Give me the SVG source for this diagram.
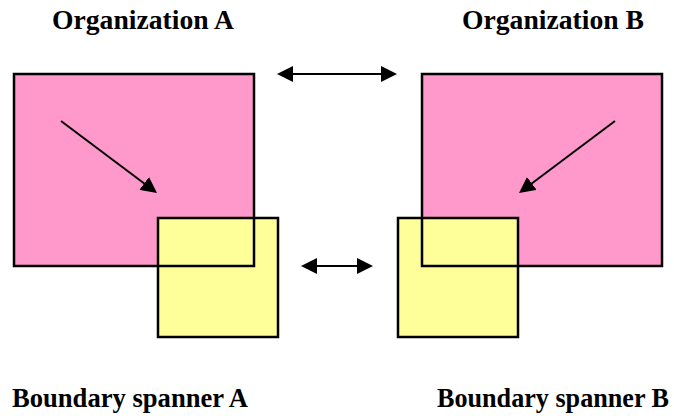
<svg xmlns="http://www.w3.org/2000/svg" width="674" height="416" viewBox="0 0 674 416">
<style>
.org{fill:#FF99CC;stroke:none}
.span{fill:#FFFF99;stroke:#000;stroke-width:2.5}
.outline{fill:none;stroke:#000;stroke-width:2.5}
.lbl{font-family:"Liberation Serif","Times New Roman",serif;font-weight:bold;font-size:27px;fill:#000}
.conn{stroke:#000;stroke-width:2;fill:none}
</style>
<defs>
<marker id="ah" viewBox="0 0 16 16" markerWidth="16" markerHeight="16" markerUnits="userSpaceOnUse" refX="13" refY="8" orient="auto-start-reverse">
<path d="M0,0 L16,8 L0,16 z" fill="#000"/>
</marker>
</defs>
<rect width="674" height="416" fill="#fff"/>
<g id="orgA">
<rect class="org" x="14" y="74" width="240" height="192"/>
<text class="lbl" x="52" y="29" textLength="182" lengthAdjust="spacingAndGlyphs">Organization A</text>
</g>
<g id="orgB">
<rect class="org" x="422" y="74" width="240" height="192"/>
<text class="lbl" x="462" y="29" textLength="182" lengthAdjust="spacingAndGlyphs">Organization B</text>
</g>
<g id="spannerA">
<rect class="span" x="158" y="218" width="120" height="119"/>
<text class="lbl" x="12" y="407" textLength="236" lengthAdjust="spacingAndGlyphs">Boundary spanner A</text>
</g>
<g id="spannerB">
<rect class="span" x="398" y="218" width="120" height="119"/>
<text class="lbl" x="437" y="407" textLength="232" lengthAdjust="spacingAndGlyphs">Boundary spanner B</text>
</g>
<g id="orgA-border"><rect class="outline" x="14" y="74" width="240" height="192"/></g>
<g id="orgB-border"><rect class="outline" x="422" y="74" width="240" height="192"/></g>
<g id="connectors">
<line class="conn" x1="280" y1="74" x2="394" y2="74" marker-start="url(#ah)" marker-end="url(#ah)"/>
<line class="conn" x1="304" y1="266" x2="370" y2="266" marker-start="url(#ah)" marker-end="url(#ah)"/>
<line class="conn" x1="61" y1="121" x2="154.6" y2="191.2" marker-end="url(#ah)"/>
<line class="conn" x1="615" y1="121" x2="521.4" y2="191.2" marker-end="url(#ah)"/>
</g>
</svg>
